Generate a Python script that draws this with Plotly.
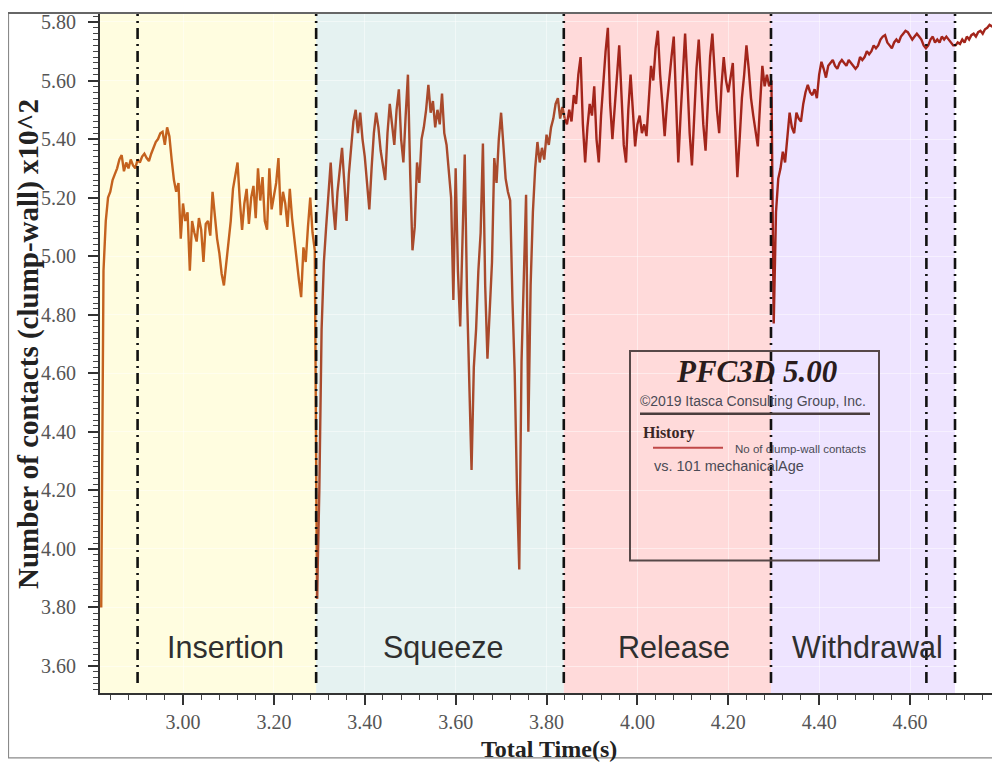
import numpy as np
import plotly.graph_objects as go

# ---------------- data ----------------
DT = 0.005
insertion_t0 = 2.820
insertion_vals = [
    3.80, 4.95, 5.12, 5.20, 5.22, 5.26, 5.28, 5.30, 5.33, 5.345,
    5.29, 5.32, 5.30, 5.33, 5.31, 5.30, 5.33, 5.32, 5.34, 5.35,
    5.335, 5.325, 5.35, 5.37, 5.39, 5.40, 5.42, 5.425, 5.38, 5.44,
    5.41, 5.33, 5.26, 5.22, 5.25, 5.06, 5.18, 5.12, 5.15, 4.95,
    5.12, 5.08, 5.05, 5.13, 5.09, 4.98, 5.11, 5.12, 5.07, 5.22,
    5.14, 5.06, 5.01, 4.94, 4.90, 4.97, 5.06, 5.12, 5.23, 5.28,
    5.32, 5.19, 5.09, 5.18, 5.23, 5.11, 5.20, 5.24, 5.13, 5.30,
    5.19, 5.27, 5.12, 5.09, 5.30, 5.16, 5.21, 5.25, 5.335, 5.14,
    5.22, 5.18, 5.10, 5.23, 5.13, 5.07, 4.99, 4.92, 4.86, 5.03,
    4.98, 5.10, 5.20, 5.08, 5.02, 3.83,
]
squeeze_t0 = 3.300
squeeze_vals = [
    4.20, 4.75, 4.98, 5.10, 5.22, 5.32, 5.18, 5.09, 5.22, 5.30,
    5.37, 5.25, 5.12, 5.28, 5.38, 5.46, 5.50, 5.42, 5.49, 5.40,
    5.34, 5.25, 5.16, 5.30, 5.42, 5.49, 5.44, 5.36, 5.30, 5.26,
    5.42, 5.52, 5.45, 5.38, 5.50, 5.57, 5.40, 5.32, 5.48, 5.62,
    5.28, 5.02, 5.10, 5.32, 5.25, 5.40, 5.44, 5.50, 5.585, 5.49,
    5.53, 5.44, 5.50, 5.45, 5.555, 5.42, 5.38, 5.30, 5.20, 4.85,
    5.30, 4.95, 4.76, 5.05, 5.347, 4.87, 4.55, 4.27, 4.62, 4.75,
    4.95, 5.08, 5.385, 4.90, 4.65, 4.80, 4.98, 5.335, 5.25, 5.40,
    5.49, 5.38, 5.265, 5.22, 5.19, 4.85, 4.60, 4.20, 3.93, 4.64,
    4.95, 5.21, 4.40, 4.90, 5.15, 5.30, 5.39, 5.32, 5.37, 5.33,
    5.415, 5.38, 5.44, 5.47, 5.52, 5.54, 5.47, 5.51, 5.47,
]
release_t0 = 3.845
release_vals = [
    5.45, 5.50, 5.46, 5.55, 5.52, 5.62, 5.68, 5.45, 5.32, 5.44,
    5.52, 5.48, 5.58, 5.40, 5.32, 5.48, 5.60, 5.70, 5.78, 5.52,
    5.40, 5.50, 5.59, 5.72, 5.55, 5.38, 5.32, 5.50, 5.62, 5.48,
    5.375, 5.45, 5.48, 5.42, 5.45, 5.41, 5.55, 5.65, 5.60, 5.71,
    5.77, 5.62, 5.52, 5.41, 5.52, 5.61, 5.68, 5.75, 5.50, 5.32,
    5.48, 5.62, 5.76, 5.60, 5.42, 5.31, 5.50, 5.64, 5.74, 5.58,
    5.45, 5.36, 5.52, 5.68, 5.76, 5.62, 5.50, 5.42, 5.58, 5.68,
    5.60, 5.56, 5.62, 5.66, 5.45, 5.27, 5.40, 5.54, 5.62, 5.72,
    5.64, 5.54, 5.48, 5.42, 5.375, 5.52, 5.65, 5.58, 5.62, 5.58,
    5.60,
]
withdrawal_t0 = 4.300
withdrawal_vals = [
    4.77, 5.15, 5.265, 5.30, 5.357, 5.32, 5.42, 5.49, 5.44, 5.42,
    5.49, 5.47, 5.46, 5.52, 5.56, 5.585, 5.56, 5.55, 5.57, 5.54,
    5.62, 5.664, 5.64, 5.61, 5.65, 5.66, 5.67, 5.65, 5.64, 5.66,
    5.67, 5.66, 5.65, 5.67, 5.66, 5.65, 5.64, 5.65, 5.68, 5.67,
    5.68, 5.70, 5.69, 5.70, 5.72, 5.71, 5.72, 5.74, 5.75, 5.755,
    5.73, 5.72, 5.71, 5.73, 5.74, 5.73, 5.75, 5.76, 5.77, 5.765,
    5.75, 5.74, 5.75, 5.76, 5.75, 5.74, 5.72, 5.71, 5.72, 5.74,
    5.75, 5.73, 5.74, 5.73, 5.75, 5.74, 5.75, 5.74, 5.73, 5.72,
    5.72, 5.73, 5.725, 5.74, 5.73, 5.75, 5.74, 5.755, 5.76, 5.75,
    5.765, 5.77, 5.76, 5.775, 5.78, 5.79, 5.785, 5.79, 5.79,
]

phase_names = ["Insertion", "Squeeze", "Release", "Withdrawal"]
phase_bounds = [3.293, 3.838, 4.294, 4.699]          # band right edges
marker_lines = [2.900, 3.293, 3.838, 4.294, 4.636, 4.699]
band_colors = ["#FFFDE0", "#E5F2F1", "#FFDADA", "#EEE4FF"]
line_colors = ["#C4621E", "#A94A2C", "#A3251B", "#A3251B"]

X_RANGE = [2.8173, 4.7914]
Y_RANGE = [3.5078, 5.8272]

# ---------------- figure ----------------
# the page body adds an 8px offset; screen pixel p maps to figure pixel p - 8
OFF = 8
W, H = 1000 - OFF, 762 - OFF
ML, MT = 100 - OFF, 12 - OFF
PW, PH = 897, 681
MR = W - ML - PW
MB = H - MT - PH


def px_x(p):
    return (p - OFF - ML) / PW


def px_y(p):
    return (MT + PH - (p - OFF)) / PH


fig = go.Figure()

series = [
    (insertion_t0, insertion_vals),
    (squeeze_t0, squeeze_vals),
    (release_t0, release_vals),
    (withdrawal_t0, withdrawal_vals),
]
prev = None
for (t0, vals), col in zip(series, line_colors):
    t = [round(t0 + DT * i, 4) for i in range(len(vals))]
    v = list(vals)
    if prev is not None:
        t = [prev[0]] + t
        v = [prev[1]] + v
    fig.add_trace(go.Scatter(x=t, y=v, mode="lines",
                             line=dict(color=col, width=2.4),
                             showlegend=False, hoverinfo="skip"))
    prev = (t[-1], v[-1])

shapes = []
left = X_RANGE[0]
for right, col in zip(phase_bounds, band_colors):
    shapes.append(dict(type="rect", xref="x", yref="y", x0=left, x1=right,
                       y0=Y_RANGE[0], y1=Y_RANGE[1], fillcolor=col,
                       line=dict(width=0), layer="below"))
    left = right

for xv in marker_lines:
    shapes.append(dict(type="line", xref="x", yref="paper", x0=xv, x1=xv,
                       y0=px_y(683), y1=1.0,
                       line=dict(color="#111111", width=2.6, dash="11px,5px,2px,5px"),
                       layer="above"))

# outer frame
shapes.append(dict(type="rect", xref="paper", yref="paper",
                   x0=px_x(8.5), x1=px_x(998), y0=px_y(758), y1=px_y(11),
                   line=dict(color="#8a8a8a", width=1.2), layer="above"))
shapes.append(dict(type="line", xref="paper", yref="paper",
                   x0=px_x(8), x1=px_x(998), y0=px_y(11), y1=px_y(11),
                   line=dict(color="#666666", width=2), layer="above"))

# PFC legend box
shapes.append(dict(type="rect", xref="paper", yref="paper",
                   x0=px_x(630), x1=px_x(879), y0=px_y(560), y1=px_y(350),
                   line=dict(color="#574848", width=2), layer="above"))
shapes.append(dict(type="line", xref="paper", yref="paper",
                   x0=px_x(640), x1=px_x(870), y0=px_y(413), y1=px_y(413),
                   line=dict(color="#4a3d3d", width=2.5), layer="above"))
shapes.append(dict(type="line", xref="paper", yref="paper",
                   x0=px_x(653), x1=px_x(723), y0=px_y(447), y1=px_y(447),
                   line=dict(color="#C04848", width=2), layer="above"))

annotations = []
label_px = [225, 443, 674, 867]
for name, xp in zip(phase_names, label_px):
    annotations.append(dict(text=name, xref="paper", yref="paper",
                            x=px_x(xp), y=px_y(647), xanchor="center", yanchor="middle",
                            showarrow=False,
                            font=dict(family="Liberation Sans, Arial", size=30.5, color="#2f2f2f")))

annotations += [
    dict(text="<b><i>PFC3D 5.00</i></b>", xref="paper", yref="paper",
         x=px_x(756), y=px_y(371), xanchor="center", yanchor="middle", showarrow=False,
         font=dict(family="Liberation Serif, Times New Roman", size=31, color="#2a1c1c")),
    dict(text="©2019 Itasca Consulting Group, Inc.", xref="paper", yref="paper",
         x=px_x(753), y=px_y(400), xanchor="center", yanchor="middle", showarrow=False,
         font=dict(family="Liberation Sans, Arial", size=14, color="#4a4a55")),
    dict(text="<b>History</b>", xref="paper", yref="paper",
         x=px_x(641), y=px_y(432), xanchor="left", yanchor="middle", showarrow=False,
         font=dict(family="Liberation Serif, Times New Roman", size=16, color="#3a2626")),
    dict(text="No of clump-wall contacts", xref="paper", yref="paper",
         x=px_x(733), y=px_y(448), xanchor="left", yanchor="middle", showarrow=False,
         font=dict(family="Liberation Sans, Arial", size=11.5, color="#4a4a55")),
    dict(text="vs. 101 mechanicalAge", xref="paper", yref="paper",
         x=px_x(652), y=px_y(465), xanchor="left", yanchor="middle", showarrow=False,
         font=dict(family="Liberation Sans, Arial", size=14.5, color="#4a4a55")),
    dict(text="<b>Number of contacts (clump-wall) x10^2</b>", xref="paper", yref="paper",
         x=px_x(28), y=px_y(343), xanchor="center", yanchor="middle", textangle=-90,
         showarrow=False,
         font=dict(family="Liberation Serif, Times New Roman", size=29, color="#222222")),
    dict(text="<b>Total Time(s)</b>", xref="paper", yref="paper",
         x=px_x(549), y=px_y(749), xanchor="center", yanchor="middle", showarrow=False,
         font=dict(family="Liberation Serif, Times New Roman", size=24, color="#222222")),
]

tickfont = dict(family="Liberation Serif, Times New Roman", size=20, color="#555555")

fig.update_layout(
    width=W, height=H,
    margin=dict(l=ML, r=MR, t=MT, b=MB, pad=0),
    paper_bgcolor="white", plot_bgcolor="white",
    shapes=shapes, annotations=annotations,
    xaxis=dict(range=X_RANGE, tick0=3.0, dtick=0.2, tickformat=".2f",
               showline=True, linecolor="#333333", linewidth=2,
               ticks="outside", ticklen=10, tickwidth=1.5, tickcolor="#333333",
               showgrid=True, gridcolor="rgba(255,255,255,0.45)", gridwidth=1.2,
               zeroline=False, tickfont=tickfont,
               minor=dict(dtick=0.04, tick0=3.0, ticks="outside", ticklen=5,
                          tickwidth=1.2, tickcolor="#444444", showgrid=False)),
    yaxis=dict(range=Y_RANGE, tick0=3.6, dtick=0.2, tickformat=".2f",
               showline=True, linecolor="#333333", linewidth=2,
               ticks="outside", ticklen=10, tickwidth=1.5, tickcolor="#333333",
               showgrid=True, gridcolor="rgba(255,255,255,0.45)", gridwidth=1.2,
               zeroline=False, tickfont=tickfont, ticklabelstandoff=8,
               minor=dict(dtick=0.02, tick0=3.6, ticks="outside", ticklen=5,
                          tickwidth=1.2, tickcolor="#444444", showgrid=False)),
)

fig.write_html("out.html")
